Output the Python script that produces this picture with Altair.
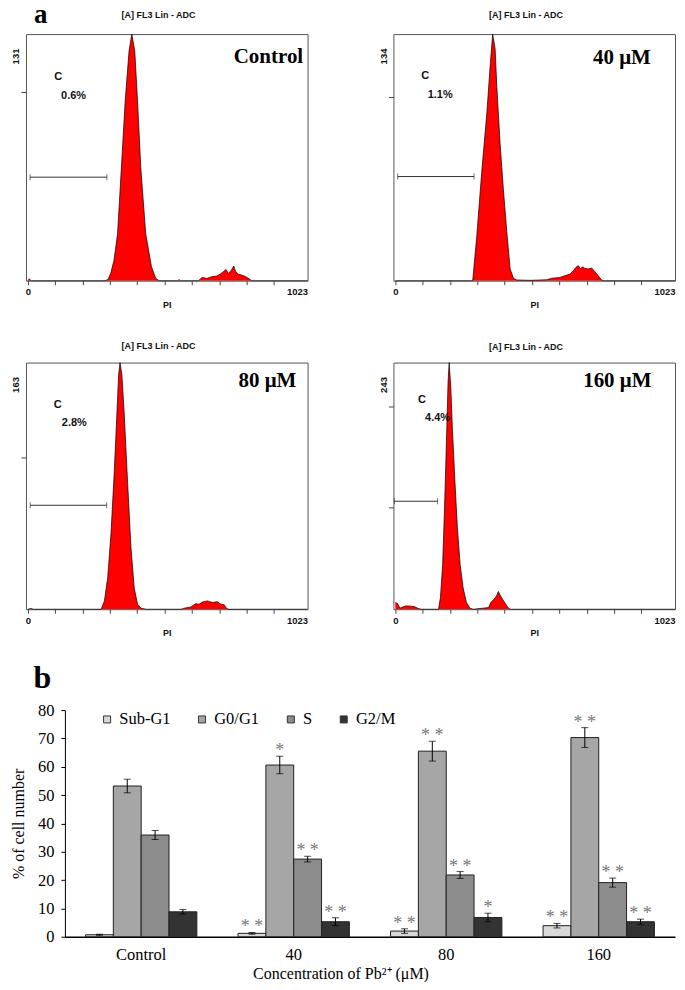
import altair as alt
import pandas as pd

SANS = "Liberation Sans"
SERIF = "Liberation Serif"

# ---------------- panel a : DNA content histograms ----------------
CTRL_CH = [0, 5, 12, 282, 293, 303, 315, 328, 342, 356, 370, 380, 391, 401, 413, 431, 452, 468, 480, 548,
           553, 558, 624, 638, 654, 672, 691, 703, 715, 725, 733, 743, 753, 760, 770, 782, 797, 809, 819, 1023]
CTRL_N = [0, 1, 0, 0, 0.7, 3.9, 10.9, 25, 60, 95.7, 122, 131, 122, 95.7, 60, 25, 7.4, 1.2, 0, 0,
          0.6, 0, 0, 1.8, 1.2, 2.1, 2.5, 3.5, 4.8, 6, 3.9, 5.3, 7.8, 4.8, 3.5, 3, 2.1, 1, 0, 0]

T40_CH = [0, 283, 298, 316, 335, 347, 356, 365, 371, 383, 395, 408, 420, 432, 444, 493, 554, 572, 602, 620,
          639, 651, 661, 669, 678, 685, 693, 706, 718, 730, 742, 754, 760, 1023]
T40_N = [0, 0, 24.5, 59, 91.7, 117, 134, 126, 106, 75, 50, 26, 6.4, 1.3, 0.4, 0.2, 0.5, 1.3, 1.8, 2.7,
         3.6, 5.4, 7.3, 8.2, 6.4, 7.6, 6.7, 6.4, 6.9, 4.9, 2.7, 0.5, 0, 0]

T80_CH = [0, 12, 20, 268, 280, 292, 304, 316, 325, 332, 337, 344, 353, 365, 377, 389, 401, 414, 432, 560,
          572, 596, 614, 626, 639, 657, 675, 693, 706, 718, 726, 734, 1023]
T80_N = [0, 0.5, 0, 0, 5.5, 21, 50, 91, 127, 155, 163, 155, 127, 83, 41, 14, 3.3, 0.7, 0, 0,
         0.7, 1.5, 3.7, 3.3, 4.8, 5.5, 4.4, 5, 3.3, 2.9, 0.7, 0, 0]

T160_CH = [0, 8, 17, 27, 39, 57, 69, 82, 94, 158, 165, 173, 180, 187, 193, 197, 203, 209, 218, 227,
           237, 248, 260, 273, 285, 319, 341, 349, 361, 370, 377, 383, 392, 404, 414, 422, 1023]
T160_N = [6.6, 5.6, 1, 2.3, 3.3, 3, 2.6, 1, 0, 0, 11.5, 44, 100, 166, 225, 243, 218, 176, 126, 80,
          44, 21, 6.6, 1, 0, 1, 1.6, 6.6, 9.9, 13, 17.4, 14, 9.9, 4.9, 1, 0, 0]

PANEL_LABELS = ["Control", "40 μM", "80 μM", "160 μM"]
Y_MAX = [131, 134, 163, 243]
Y_TICKS = [[100], [100], [100], [100, 200]]
SUBG1_PCT = ["0.6%", "1.1%", "2.8%", "4.4%"]
HEADER = "[A] FL3 Lin - ADC"
X_TICKS = [0, 100, 200, 300, 400, 500, 600, 700, 800, 900, 1023]

# annotation anchors, in data units (channel, count)
GATES = [(8, 289, 55), (8.5, 288, 56.6), (8.5, 288, 68.7), (-3.6, 154.5, 106.4)]
C_POS = [(111, 108), (109.5, 111.3), (109.5, 135), (97, 206)]
PCT_POS = [(167, 98.2), (164, 100.8), (170, 123.4), (154.5, 188)]
LABEL_POS = [(880, 115.8), (829, 118), (876, 146.7), (812, 218.7)]
HEADER_POS = [(478, 139.6), (478, 142.8), (478, 171.8), (478, 255.5)]
LETTER_A_POS = (22, 136.8)

# ---------------- panel b : cell-cycle distribution ----------------
CONC = ["Control", "40", "80", "160"]
PHASES = ["Sub-G1", "G0/G1", "S", "G2/M"]
PHASE_COLORS = ["#d9d9d9", "#a6a6a6", "#8c8c8c", "#333333"]
SUB_G1 = [0.7, 1.2, 2.0, 3.9]
SUB_G1_ERR = [0.2, 0.3, 0.8, 0.8]
G0_G1 = [53.2, 60.6, 65.5, 70.3]
G0_G1_ERR = [2.4, 3.1, 3.5, 3.5]
S_PHASE = [35.9, 27.4, 21.8, 19.1]
S_PHASE_ERR = [1.6, 1.0, 1.2, 1.6]
G2_M = [8.8, 5.3, 6.8, 5.3]
G2_M_ERR = [0.8, 1.4, 1.5, 0.9]
STARS = {"Sub-G1": ["", "* *", "* *", "* *"],
         "G0/G1": ["", "*", "* *", "* *"],
         "S": ["", "* *", "* *", "* *"],
         "G2/M": ["", "* *", "*", "* *"]}
Y_BAR_TICKS = [0, 10, 20, 30, 40, 50, 60, 70, 80]


def hist_panel(i, ch, cnt, letter=False):
    ymax = Y_MAX[i]
    xsc = alt.Scale(domain=[-7, 1023], nice=False, zero=False)
    ysc = alt.Scale(domain=[0, ymax], nice=False, zero=False)
    xax = alt.Axis(
        values=X_TICKS, tickCount=12,
        labelExpr="(datum.value == 0 || datum.value == 1023) ? '' + datum.value : ''",
        labelAlign={"condition": {"test": "datum.value == 1023", "value": "right"}, "value": "center"},
        tickOpacity={"condition": {"test": "datum.value == 1023", "value": 0}, "value": 1},
        labelOverlap=False,
        domain=False, grid=False, tickSize=4, tickColor="#444444",
        labelFont=SANS, labelFontSize=9.5, labelFontWeight="bold", labelColor="#111111", labelPadding=2,
        title="PI", titleFont=SANS, titleFontSize=9, titleFontWeight="bold", titleColor="#111111",
        titlePadding=4)
    yax = alt.Axis(
        values=Y_TICKS[i] + [ymax], tickCount=5,
        labelExpr=f"datum.value == {ymax} ? '' + datum.value : ''",
        tickOpacity={"condition": {"test": f"datum.value == {ymax}", "value": 0}, "value": 1},
        labelAngle=270, labelAlign="right", labelBaseline="alphabetic", labelOffset=14, labelPadding=2,
        domain=False, grid=False, tickSize=5, tickColor="#444444",
        labelFont=SANS, labelFontSize=9.5, labelFontWeight="bold", labelColor="#111111", title=None)

    area = alt.Chart(pd.DataFrame({"ch": ch, "n": cnt})).mark_area(
        color="#ff0000", opacity=1, line={"color": "#000000", "strokeWidth": 0.7}
    ).encode(x=alt.X("ch:Q", scale=xsc, axis=xax), y=alt.Y("n:Q", scale=ysc, axis=yax))

    g0, g1, gy = GATES[i]
    gate = alt.Chart(pd.DataFrame({"ch": [g0], "ch2": [g1], "n": [gy]})).mark_rule(
        color="#333333", strokeWidth=1).encode(x="ch:Q", x2="ch2:Q", y="n:Q")
    caps = alt.Chart(pd.DataFrame({"ch": [g0, g1], "n": [gy, gy]})).mark_tick(
        orient="vertical", size=6, thickness=1, color="#333333").encode(x="ch:Q", y="n:Q")

    small = alt.Chart(pd.DataFrame({
        "ch": [C_POS[i][0], PCT_POS[i][0]], "n": [C_POS[i][1], PCT_POS[i][1]], "t": ["C", SUBG1_PCT[i]]
    })).mark_text(font=SANS, fontSize=11, fontWeight="bold", color="#111111",
                  align="center", baseline="middle").encode(x="ch:Q", y="n:Q", text="t:N")

    conc = alt.Chart(pd.DataFrame({"ch": [LABEL_POS[i][0]], "n": [LABEL_POS[i][1]], "t": [PANEL_LABELS[i]]})
                     ).mark_text(font=SERIF, fontSize=21, fontWeight="bold", color="black",
                                 align="center", baseline="alphabetic").encode(x="ch:Q", y="n:Q", text="t:N")

    head = alt.Chart(pd.DataFrame({"ch": [HEADER_POS[i][0]], "n": [HEADER_POS[i][1]], "t": [HEADER]})
                     ).mark_text(font=SANS, fontSize=9, fontWeight="bold", color="#111111",
                                 align="center", baseline="alphabetic").encode(x="ch:Q", y="n:Q", text="t:N")
    layers = [area, gate, caps, small, conc, head]
    if letter:
        layers.append(alt.Chart(pd.DataFrame({"ch": [LETTER_A_POS[0]], "n": [LETTER_A_POS[1]], "t": ["a"]})
                                ).mark_text(font=SERIF, fontSize=27, fontWeight="bold", color="black",
                                            align="left", baseline="alphabetic"
                                            ).encode(x="ch:Q", y="n:Q", text="t:N"))
    return alt.layer(*layers).properties(
        width=282, height=247, view=alt.ViewBackground(stroke="#555555", strokeWidth=1))


p_ctrl = hist_panel(0, CTRL_CH, CTRL_N, letter=True)
p40 = hist_panel(1, T40_CH, T40_N)
p80 = hist_panel(2, T80_CH, T80_N)
p160 = hist_panel(3, T160_CH, T160_N)

# ---------------- bar chart ----------------
rows = []
for j, c in enumerate(CONC):
    for p, m, e in zip(PHASES, [SUB_G1[j], G0_G1[j], S_PHASE[j], G2_M[j]],
                       [SUB_G1_ERR[j], G0_G1_ERR[j], S_PHASE_ERR[j], G2_M_ERR[j]]):
        rows.append({"cond": c, "phase": p, "mean": m, "lo": m - e, "hi": m + e, "star": STARS[p][j]})
bdf = pd.DataFrame(rows)

# the bar panel sits in the first grid column; its scales reach past that cell
XRANGE = [39, 650]
YRANGE = [246, 19]

x_scale = alt.Scale(range=XRANGE, paddingInner=0.27, paddingOuter=0.135)
x_axis = alt.Axis(title="Concentration  of Pb²⁺ (μM)", labelAngle=0, ticks=False, tickSize=0,
                  domainColor="black", domainWidth=1.5, labelFont=SERIF, labelFontSize=16.5,
                  labelColor="black", labelPadding=10, titleFont=SERIF, titleFontSize=16,
                  titleFontWeight="normal", titleColor="black", titlePadding=2, titleX=315)
y_scale = alt.Scale(domain=[0, 80], range=YRANGE, nice=False)
y_axis = alt.Axis(values=Y_BAR_TICKS, tickCount=12, title="% of cell number", grid=False, offset=-39,
                  labelOverlap=False, tickSize=4, tickColor="black", domainColor="black",
                  labelFont=SERIF, labelFontSize=16.5, labelColor="black", labelPadding=7,
                  titleFont=SERIF, titleFontSize=16, titleFontWeight="normal",
                  titleColor="black", titlePadding=11)
xo = alt.XOffset("phase:N", sort=PHASES, scale=alt.Scale(paddingInner=0, paddingOuter=0))


def xb():
    return alt.X("cond:N", sort=CONC, scale=x_scale, axis=x_axis)


def yb(field):
    return alt.Y(field, scale=y_scale, axis=y_axis, title="% of cell number")


bars = alt.Chart(bdf).mark_bar(stroke="#222222", strokeWidth=1).encode(
    x=xb(), xOffset=xo, y=yb("mean:Q"),
    fill=alt.Fill("phase:N", sort=PHASES, scale=alt.Scale(domain=PHASES, range=PHASE_COLORS),
                  legend=alt.Legend(title=None, orient="none", legendX=73, legendY=20,
                                    direction="horizontal", symbolType="square", symbolSize=49,
                                    symbolStrokeColor="#333333", symbolStrokeWidth=1,
                                    labelFont=SERIF, labelFontSize=16.5, labelColor="black",
                                    labelOffset=4, columnPadding=23, padding=0)))
err = alt.Chart(bdf).mark_rule(color="black", strokeWidth=1).encode(
    x=xb(), xOffset=xo, y=yb("lo:Q"), y2="hi:Q")
cap_lo = alt.Chart(bdf).mark_tick(orient="horizontal", size=7, thickness=1, color="black").encode(
    x=xb(), xOffset=xo, y=yb("lo:Q"))
cap_hi = alt.Chart(bdf).mark_tick(orient="horizontal", size=7, thickness=1, color="black").encode(
    x=xb(), xOffset=xo, y=yb("hi:Q"))
stars = alt.Chart(bdf).transform_filter("datum.star != ''").mark_text(
    font=SERIF, fontSize=18, color="#777777", baseline="alphabetic", dy=0).encode(
    x=xb(), xOffset=xo, y=yb("hi:Q"), text="star:N")

bar = alt.layer(bars, err, cap_lo, cap_hi, stars).properties(
    width=282, height=246, view=alt.ViewBackground(strokeWidth=0),
    title=alt.Title("b", font=SERIF, fontSize=32, fontWeight="bold", color="black",
                    anchor="start", dx=23, dy=39, offset=10, baseline="alphabetic"))

chart = alt.concat(p_ctrl, p40, p80, p160, bar, columns=2,
                   spacing={"row": 82, "column": 86}, bounds="flush").resolve_legend(
    fill="independent").properties(padding={"left": 2, "top": -8.6, "right": 0, "bottom": 0})

chart.save("out.html", embed_options={"renderer": "svg", "actions": False})
